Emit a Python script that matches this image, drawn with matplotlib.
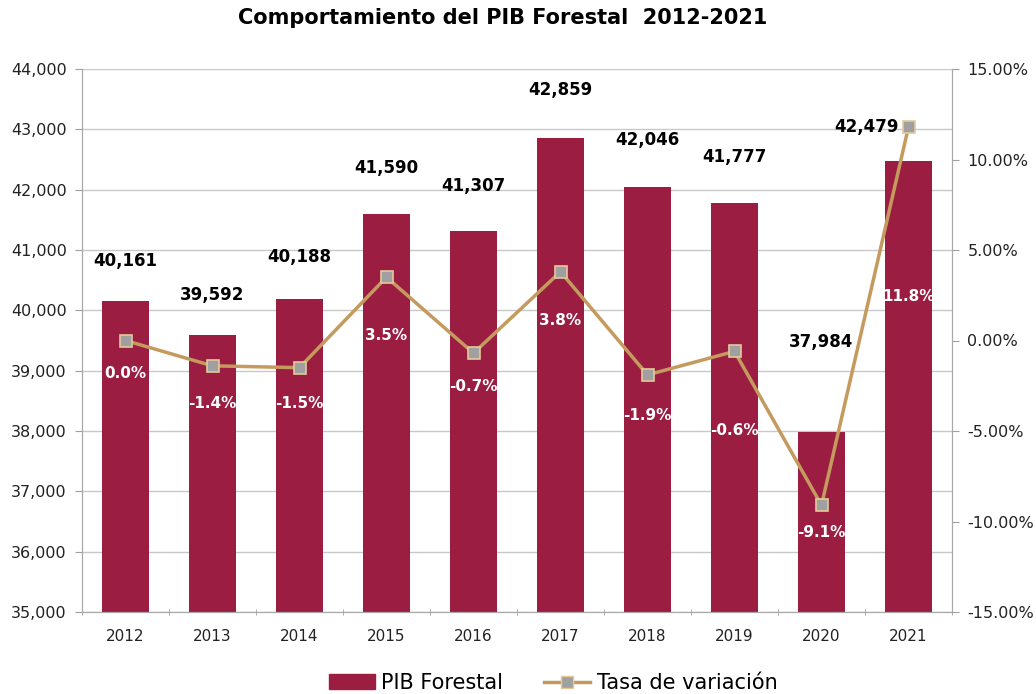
import numpy as np
import matplotlib.pyplot as plt
from matplotlib.ticker import FuncFormatter, FixedLocator
from matplotlib.patches import Patch
from matplotlib.lines import Line2D

plt.rcParams['font.family'] = ['DejaVu Sans']

years = ['2012', '2013', '2014', '2015', '2016', '2017', '2018', '2019', '2020', '2021']
pib = [40161, 39592, 40188, 41590, 41307, 42859, 42046, 41777, 37984, 42479]
tasa = [0.0, -1.4, -1.5, 3.5, -0.7, 3.8, -1.9, -0.6, -9.1, 11.8]

# label offsets in points (layout only)
pct_off = [-24, -27, -26, -42, -24, -35, -29, -57, -20, -122]
val_off = [22, 22, 24, 27, 26, 28, 27, 27, 58]

bar_color = '#9B1E42'
line_color = '#C49A5E'
grid_color = '#C8C8C8'

fig = plt.figure(figsize=(10.36, 6.94), dpi=100)
ax = fig.add_axes([82/1036, 1-612/694, (952-82)/1036, (612-69)/694])
x = np.arange(len(years))

ax.bar(x, pib, width=0.53, color=bar_color, zorder=2)
ax.set_ylim(35000, 44000)
ax.set_xlim(-0.5, len(years)-0.5)
ax.set_yticks(np.arange(35000, 44001, 1000))
ax.yaxis.set_major_formatter(FuncFormatter(lambda v, p: f'{int(v):,}'))
ax.grid(axis='y', color=grid_color, lw=1, zorder=0)
ax.set_xticks(x)
ax.set_xticklabels(years)
ax.xaxis.set_minor_locator(FixedLocator(np.arange(-0.5, len(years), 1)))
ax.tick_params(axis='x', which='major', length=0, pad=12, labelsize=11, colors='#222222')
ax.tick_params(axis='x', which='minor', length=5, color='#A0A0A0', direction='inout')
ax.tick_params(axis='y', length=5, color='#A0A0A0', labelcolor='#222222', labelsize=11.5, pad=6)
ax.spines['top'].set_visible(False)
for s in ['left', 'right', 'bottom']:
    ax.spines[s].set_color('#A8A8A8')

ax2 = ax.twinx()
ax2.set_ylim(-15, 15)
ax2.set_yticks(np.arange(-15, 15.1, 5))
ax2.yaxis.set_major_formatter(FuncFormatter(lambda v, p: f'{v:.2f}%'))
ax2.tick_params(axis='y', length=5, color='#A0A0A0', labelcolor='#222222', labelsize=11.5, pad=6)
ax2.spines['top'].set_visible(False)
for s in ['left', 'right', 'bottom']:
    ax2.spines[s].set_color('#A8A8A8')
ax2.plot(x, tasa, color=line_color, lw=2.5, marker='s', markersize=8,
         markerfacecolor='#A0A0A0', markeredgecolor='#E3C99A', markeredgewidth=1.2, zorder=3)

for i, v in enumerate(pib[:-1]):
    ax.annotate(f'{v:,}', (x[i], v), xytext=(0, val_off[i]),
                textcoords='offset points', ha='center', va='bottom',
                fontsize=12, fontweight='bold', color='black')
# 2021 value label sits left of the marker
ax2.annotate(f'{pib[-1]:,}', (x[-1], tasa[-1]), xytext=(-30, 0),
             textcoords='offset points', ha='center', va='center',
             fontsize=12, fontweight='bold', color='black')

for i, t in enumerate(tasa):
    ax2.annotate(f'{t:.1f}%', (x[i], t), xytext=(0, pct_off[i]),
                 textcoords='offset points', ha='center', va='center',
                 fontsize=11, fontweight='bold', color='white')

fig.suptitle('Comportamiento del PIB Forestal  2012-2021', x=503/1036, y=1-18/694,
             va='center', fontsize=15, fontweight='bold')

handles = [Patch(color=bar_color, label='PIB Forestal'),
           Line2D([], [], color=line_color, lw=2.5, marker='s', markersize=8,
                  markerfacecolor='#A0A0A0', markeredgecolor='#E3C99A', label='Tasa de variación')]
fig.legend(handles=handles, loc='center', bbox_to_anchor=(553/1036, 1-683/694), ncol=2,
           frameon=False, fontsize=15, handlelength=2.2, columnspacing=2.0, handletextpad=0.3)

fig.savefig('out.png', dpi=100)
